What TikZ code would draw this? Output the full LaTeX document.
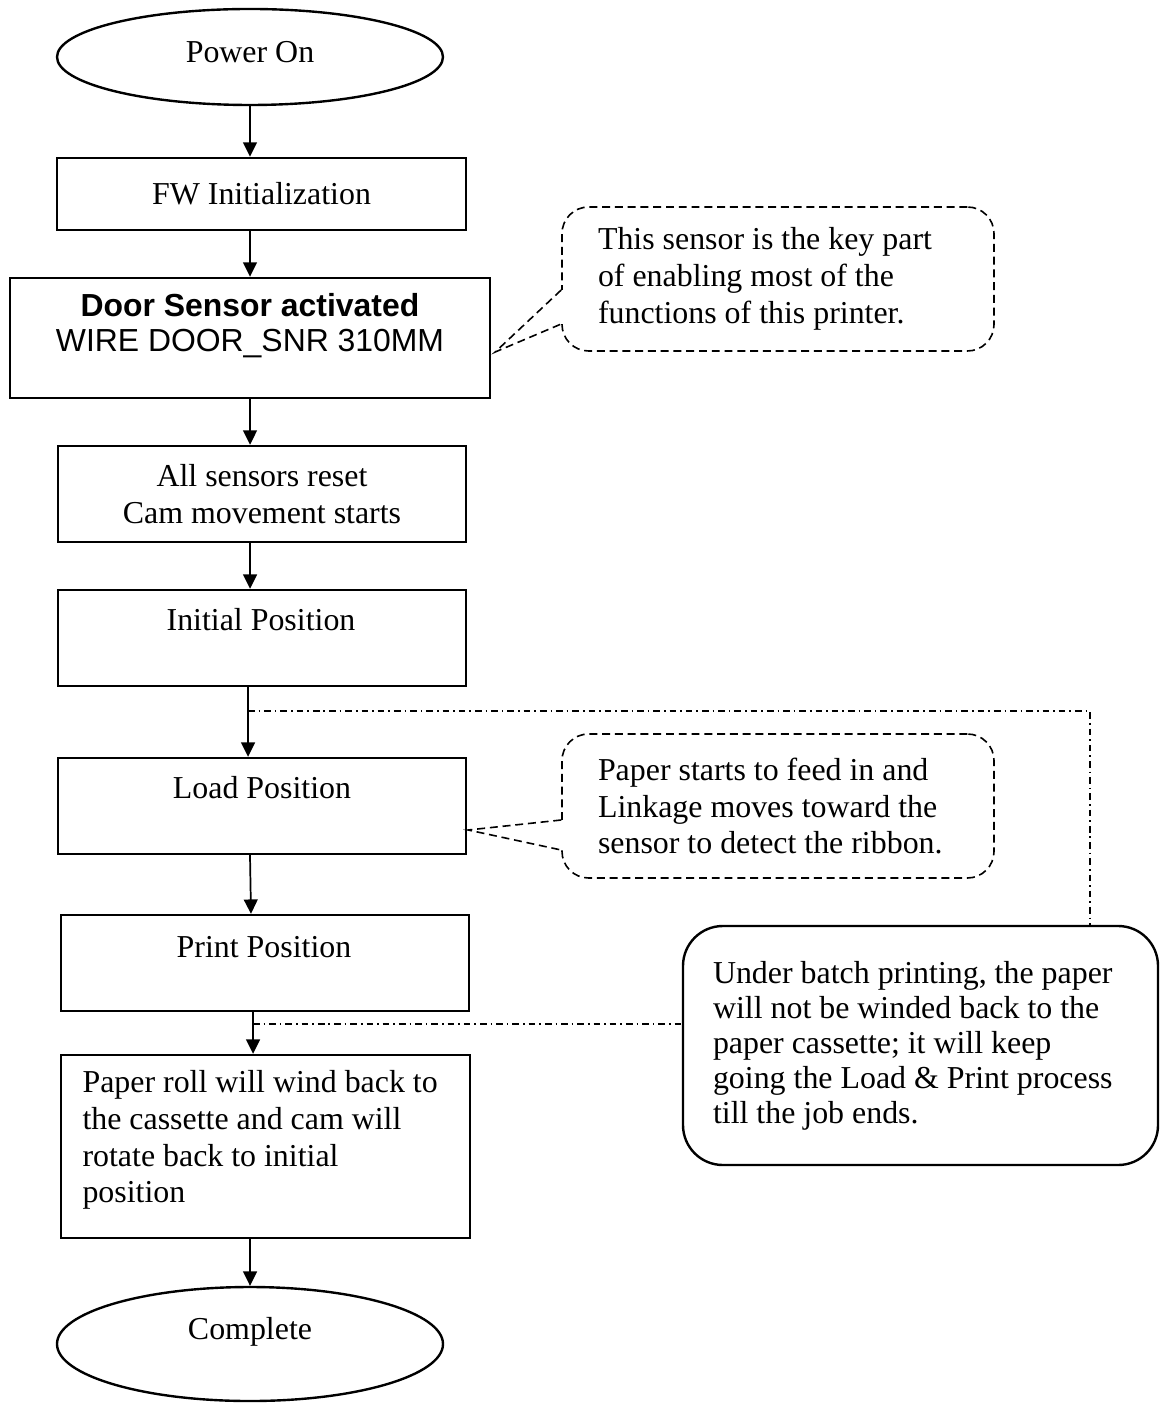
\documentclass[tikz,border=0pt]{standalone}
\usepackage{fontspec}
\setmainfont{Liberation Serif}
\setsansfont{Liberation Sans}
\usetikzlibrary{shapes.geometric,arrows.meta,calc}
\newlength\pxu
\setlength\pxu{0.3762pt}
\newcommand{\natsp}{\spaceskip=0pt\xspaceskip=0pt\relax}
\begin{document}
\begin{tikzpicture}[x=0.3762pt,y=-0.3762pt,
  box/.style={draw, line width=0.9pt, rectangle, inner sep=0pt, font=\fontsize{12}{14.2}\selectfont},
  term/.style={draw, ellipse, line width=0.9pt, inner sep=0pt},
  txt/.style={inner sep=0pt, font=\fontsize{12}{13.9}\selectfont},
  arr/.style={-{Triangle[length=5.4pt,width=5.2pt]}, line width=0.65pt},
  note/.style={draw, line width=0.6pt, dash pattern=on 3pt off 1.8pt, rounded corners=10pt,
    align=left, inner xsep=36\pxu, inner ysep=0pt, font=\fontsize{12}{13.9}\selectfont},
  tail/.style={line width=0.6pt, dash pattern=on 3pt off 1.8pt},
  bignote/.style={draw, line width=0.9pt, rounded corners=15pt, align=left,
    inner xsep=30\pxu, inner ysep=0pt, font=\fontsize{12}{13.2}\selectfont},
  dd/.style={line width=0.6pt, dash pattern=on 2.5pt off 1.5pt on 0.6pt off 1.5pt}]
\useasboundingbox (0,0) rectangle (1161,1403);

% terminals
\node[term, minimum width=386\pxu, minimum height=96\pxu] (pon) at (250,57) {};
\node[txt] (pont) at (250,52) {Power On};
\node[term, minimum width=386\pxu, minimum height=114\pxu] (comp) at (250,1344) {};
\node[txt] (compt) at (250,1332) {Complete};

% process boxes
\node[box, minimum width=409\pxu, minimum height=72\pxu] (fw) at (261.5,194) {FW Initialization};
\node[box, minimum width=480\pxu, minimum height=120\pxu] (door) at (250,338) {};
\node[txt, align=center, font=\sffamily\fontsize{12}{13.2}\selectfont] (doort) at (250,325.5)
  {\textbf{Door Sensor activated}\\WIRE DOOR\_SNR 310MM};
\node[box, align=center, minimum width=408\pxu, minimum height=96\pxu] (alls) at (262,494)
  {All sensors reset\\Cam movement starts};
\node[box, minimum width=408\pxu, minimum height=96\pxu] (init) at (262,638) {};
\node[txt] (initt) at (261,620) {Initial Position};
\node[box, minimum width=408\pxu, minimum height=96\pxu] (load) at (262,806) {};
\node[txt] (loadt) at (262,788) {Load Position};
\node[box, minimum width=408\pxu, minimum height=96\pxu] (print) at (265,963) {};
\node[txt] (printt) at (264,947) {Print Position};
\node[box, minimum width=409\pxu, minimum height=183\pxu] (paper) at (265.5,1146.5) {};
\node[txt, align=left, anchor=west, font=\fontsize{12}{13.8}\selectfont] (papert) at (82,1140)
  {Paper roll will wind back to\\the cassette and cam will\\rotate back to initial\\position};

% callouts
\node[note, text width=360\pxu, minimum height=144\pxu] (c1) at (778,279)
  {\natsp This sensor is the key part\\of enabling most of the\\functions of this printer.};
\draw[white, line width=2pt] ($(c1.west)+(0,11)$) -- ($(c1.west)+(0,45)$);
\draw[tail] ($(c1.west)+(0,11)$) -- ($(door.east)+(4,14)$) -- ($(c1.west)+(0,45)$);

\node[note, text width=360\pxu, minimum height=144\pxu] (c2) at (778,806)
  {\natsp Paper starts to feed in and\\Linkage moves toward the\\sensor to detect the ribbon.};
\draw[white, line width=2pt] ($(c2.west)+(0,14)$) -- ($(c2.west)+(0,44)$);
\draw[tail] ($(c2.west)+(0,14)$) -- ($(load.east)+(1,24)$) -- ($(c2.west)+(0,44)$);

\node[bignote, text width=415\pxu, minimum height=239\pxu] (bn) at (920.5,1045.5)
  {\natsp Under batch printing, the paper\\will not be winded back to the\\paper cassette; it will keep\\going the Load \& Print process\\till the job ends.};

% arrows
\draw[arr] (pon.south) -- (pon.south |- fw.north);
\draw[arr] (fw.south -| pon.south) -- (door.north);
\draw[arr] (door.south) -- (door.south |- alls.north);
\draw[arr] (alls.south -| door.south) -- (init.north -| door.south);
\draw[arr] ($(init.south)+(-14,0)$) -- ($(load.north)+(-14,0)$);
\draw[arr] ($(load.south)+(-12,0)$) -- ($(print.north)+(-14,0)$);
\draw[arr] ($(print.south)+(-12,0)$) -- ($(paper.north)+(-12.5,0)$);
\draw[arr] (paper.south -| comp.north) -- (comp.north);

% batch loop lines
\coordinate (j1) at ($(init.south)+(-14,24)$);
\coordinate (j2) at ($(print.south)+(-12,12)$);
\draw[dd] (j1) -| ($(bn.north)+(169.5,0)$);
\draw[dd] (j2) -- (j2 -| bn.west);
\end{tikzpicture}
\end{document}
